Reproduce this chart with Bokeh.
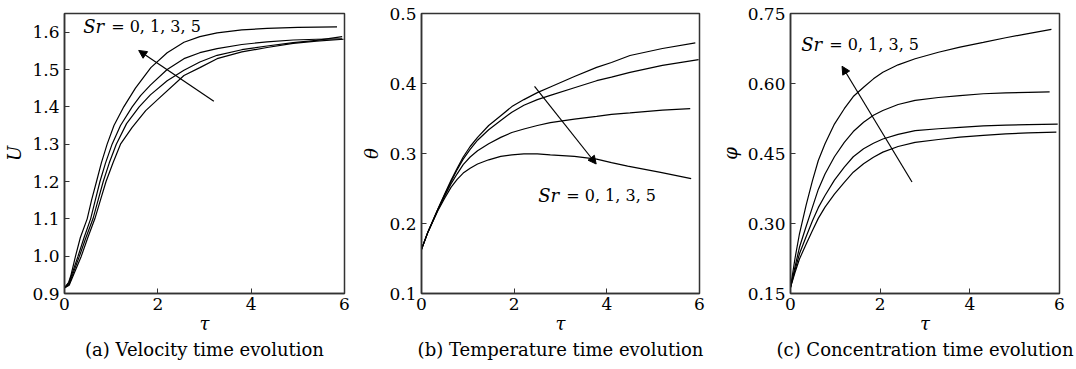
from bokeh.plotting import figure
from bokeh.layouts import row
from bokeh.models import Arrow, NormalHead, FixedTicker, Range1d, Title, PrintfTickFormatter
from bokeh.core.properties import value
from bokeh.embed import file_html
from bokeh.resources import INLINE

# ---------------- data ----------------
# (a) velocity U(tau)
a_tau_sr5 = [0, 0.09, 0.14, 0.236, 0.34, 0.486, 0.58, 0.686, 0.79, 0.914, 1.06, 1.27, 1.52, 1.85,
             2.2, 2.56, 2.9, 3.27, 3.8, 4.34, 5.0, 5.84]
a_U_sr5 = [0.915, 0.93, 0.95, 1.0, 1.05, 1.1, 1.15, 1.2, 1.25, 1.3, 1.35, 1.4, 1.45, 1.505,
           1.545, 1.573, 1.588, 1.598, 1.606, 1.61, 1.613, 1.614]
a_tau_sr3 = [0, 0.1, 0.29, 0.42, 0.56, 0.66, 0.76, 0.88, 1.02, 1.2, 1.45, 1.63, 1.84, 2.2,
             2.56, 2.9, 3.27, 3.8, 4.34, 4.9, 5.4, 5.95]
a_U_sr3 = [0.915, 0.93, 1.0, 1.05, 1.1, 1.15, 1.2, 1.25, 1.3, 1.35, 1.4, 1.43, 1.458, 1.5,
           1.529, 1.545, 1.556, 1.567, 1.574, 1.579, 1.581, 1.582]
a_tau_sr1 = [0, 0.1, 0.32, 0.46, 0.61, 0.72, 0.83, 0.96, 1.11, 1.33, 1.6, 1.84, 2.2, 2.56,
             2.9, 3.27, 3.8, 4.34, 4.9, 5.4, 5.95]
a_U_sr1 = [0.915, 0.925, 1.0, 1.05, 1.1, 1.15, 1.2, 1.25, 1.3, 1.355, 1.4, 1.432, 1.47, 1.498,
           1.52, 1.538, 1.553, 1.563, 1.572, 1.578, 1.588]
a_tau_sr0 = [0, 0.1, 0.36, 0.5, 0.65, 0.77, 0.89, 1.04, 1.2, 1.45, 1.74, 2.0, 2.56, 2.9,
             3.27, 3.8, 4.34, 4.9, 5.4, 5.98]
a_U_sr0 = [0.915, 0.922, 1.0, 1.05, 1.1, 1.15, 1.2, 1.25, 1.3, 1.345, 1.39, 1.42, 1.484, 1.505,
           1.529, 1.547, 1.559, 1.57, 1.576, 1.581]

# (b) temperature theta(tau)
b_tau_sr0 = [0, 0.14, 0.35, 0.5, 0.64, 0.77, 0.9, 1.05, 1.21, 1.45, 1.71, 1.95, 2.21, 2.5,
             2.78, 3.3, 3.78, 4.1, 4.5, 5.2, 5.91]
b_T_sr0 = [0.163, 0.188, 0.22, 0.242, 0.262, 0.279, 0.295, 0.31, 0.323, 0.34, 0.354, 0.367,
           0.377, 0.387, 0.395, 0.41, 0.423, 0.43, 0.44, 0.45, 0.458]
b_tau_sr1 = [0, 0.14, 0.35, 0.5, 0.64, 0.77, 0.9, 1.05, 1.21, 1.45, 1.71, 1.95, 2.21, 2.5,
             2.78, 3.3, 3.78, 4.1, 4.5, 5.2, 5.98]
b_T_sr1 = [0.163, 0.188, 0.22, 0.241, 0.26, 0.277, 0.292, 0.306, 0.319, 0.334, 0.347, 0.359,
           0.369, 0.377, 0.383, 0.394, 0.404, 0.409, 0.416, 0.426, 0.434]
b_tau_sr3 = [0, 0.14, 0.35, 0.5, 0.64, 0.77, 0.9, 1.05, 1.21, 1.45, 1.71, 1.95, 2.21, 2.5,
             2.78, 3.3, 3.78, 4.1, 4.5, 5.2, 5.8]
b_T_sr3 = [0.163, 0.188, 0.219, 0.239, 0.257, 0.271, 0.284, 0.295, 0.304, 0.314, 0.323, 0.33,
           0.335, 0.34, 0.344, 0.349, 0.353, 0.356, 0.358, 0.362, 0.364]
b_tau_sr5 = [0, 0.14, 0.35, 0.5, 0.64, 0.77, 0.9, 1.05, 1.21, 1.45, 1.71, 1.95, 2.21, 2.5,
             2.78, 3.3, 3.78, 4.1, 4.45, 5.16, 5.82]
b_T_sr5 = [0.163, 0.188, 0.218, 0.236, 0.252, 0.263, 0.272, 0.279, 0.285, 0.291, 0.296, 0.298,
           0.2995, 0.2995, 0.298, 0.296, 0.292, 0.287, 0.282, 0.273, 0.264]

# (c) concentration phi(tau)
c_tau_sr5 = [0, 0.1, 0.2, 0.35, 0.49, 0.62, 0.77, 0.98, 1.2, 1.4, 1.63, 1.85, 2.06, 2.4,
             2.78, 3.3, 3.78, 4.3, 4.8, 5.3, 5.82]
c_C_sr5 = [0.163, 0.225, 0.278, 0.34, 0.392, 0.435, 0.471, 0.513, 0.546, 0.572, 0.592, 0.61,
           0.624, 0.64, 0.653, 0.667, 0.678, 0.688, 0.698, 0.707, 0.716]
c_tau_sr3 = [0, 0.1, 0.2, 0.35, 0.49, 0.62, 0.77, 0.98, 1.2, 1.4, 1.63, 1.85, 2.06, 2.4,
             2.78, 3.3, 3.78, 4.3, 4.8, 5.3, 5.78]
c_C_sr3 = [0.163, 0.207, 0.249, 0.294, 0.335, 0.373, 0.406, 0.443, 0.474, 0.497, 0.517, 0.532,
           0.542, 0.555, 0.564, 0.57, 0.574, 0.578, 0.58, 0.581, 0.582]
c_tau_sr1 = [0, 0.1, 0.2, 0.35, 0.49, 0.62, 0.77, 0.98, 1.2, 1.4, 1.63, 1.85, 2.06, 2.4,
             2.78, 3.3, 3.78, 4.3, 4.8, 5.3, 5.96]
c_C_sr1 = [0.163, 0.2, 0.235, 0.272, 0.306, 0.334, 0.36, 0.393, 0.421, 0.443, 0.46, 0.472,
           0.481, 0.491, 0.499, 0.503, 0.506, 0.509, 0.511, 0.512, 0.513]
c_tau_sr0 = [0, 0.1, 0.2, 0.35, 0.49, 0.62, 0.77, 0.98, 1.2, 1.4, 1.63, 1.85, 2.06, 2.4,
             2.78, 3.3, 3.78, 4.3, 4.8, 5.3, 5.93]
c_C_sr0 = [0.163, 0.195, 0.224, 0.256, 0.285, 0.311, 0.335, 0.363, 0.388, 0.41, 0.428, 0.442,
           0.453, 0.465, 0.474, 0.48, 0.485, 0.489, 0.492, 0.494, 0.496]

x_ticks = [0, 2, 4, 6]
a_yticks = [0.9, 1.0, 1.1, 1.2, 1.3, 1.4, 1.5, 1.6]
b_yticks = [0.1, 0.2, 0.3, 0.4, 0.5]
c_yticks = [0.15, 0.30, 0.45, 0.60, 0.75]

label_sr = "Sr"
label_rest = "= 0, 1, 3, 5"

SERIF = "DejaVu Serif"
H = 369


def make_panel(width, left, right, yr, yticks, yfmt, ylabel, caption,
               series, arrow, text_pos):
    p = figure(width=width, height=H, output_backend="svg", toolbar_location=None,
               x_range=Range1d(0, 6), y_range=Range1d(*yr),
               min_border_left=left, min_border_right=right,
               min_border_top=13, min_border_bottom=76)
    p.background_fill_color = "white"
    p.border_fill_color = "white"
    p.outline_line_color = "#333333"
    p.outline_line_width = 1.5
    p.xgrid.visible = False
    p.ygrid.visible = False
    for ax in (p.xaxis[0], p.yaxis[0]):
        ax.axis_line_color = "#333333"
        ax.axis_line_width = 1.5
        ax.major_tick_in = 5
        ax.major_tick_out = 0
        ax.minor_tick_in = 0
        ax.minor_tick_out = 0
        ax.major_tick_line_color = "#333333"
        ax.major_label_text_font = SERIF
        ax.major_label_text_font_size = "17px"
        ax.major_label_text_color = "black"
        ax.axis_label_text_font = SERIF
        ax.axis_label_text_font_style = "italic"
        ax.axis_label_text_font_size = "18px"
        ax.axis_label_text_color = "black"
    p.xaxis.ticker = FixedTicker(ticks=x_ticks)
    p.yaxis.ticker = FixedTicker(ticks=yticks)
    p.yaxis.formatter = PrintfTickFormatter(format=yfmt)
    p.xaxis.major_label_standoff = 4
    p.yaxis.major_label_standoff = 5
    p.xaxis.axis_label = "τ"
    p.xaxis.axis_label_standoff = 0
    p.yaxis.axis_label = ylabel
    p.yaxis.axis_label_standoff = 4
    for xs, ys in series:
        p.line(xs, ys, line_color="black", line_width=1.2)
    (x0, y0, x1, y1) = arrow
    p.add_layout(Arrow(end=NormalHead(size=8, fill_color="black", line_color="black"),
                       x_start=x0, y_start=y0, x_end=x1, y_end=y1,
                       line_color="black", line_width=1.2))
    tx, ty = text_pos
    p.text([tx], [ty], text=[label_sr], text_font=value(SERIF), text_font_style="italic",
           text_font_size="18px", text_baseline="middle", text_align="left", text_color="black")
    p.text([tx], [ty], text=[label_rest], text_font=value(SERIF), x_offset=28,
           text_font_size="16px", text_baseline="middle", text_align="left", text_color="black")
    t = Title(text=caption, align="center", text_font=SERIF, text_font_style="normal",
              text_font_size="18px", text_color="black", standoff=0, offset=0)
    p.add_layout(t, "below")
    return p


pa = make_panel(358, 64, 14, (0.9, 1.65), a_yticks, "%.1f", "U",
                "(a) Velocity time evolution",
                [(a_tau_sr5, a_U_sr5), (a_tau_sr3, a_U_sr3),
                 (a_tau_sr1, a_U_sr1), (a_tau_sr0, a_U_sr0)],
                (3.2, 1.415, 1.59, 1.551), (0.4, 1.615))

pb = make_panel(358, 61, 17, (0.1, 0.5), b_yticks, "%.1f", "θ",
                "(b) Temperature time evolution",
                [(b_tau_sr0, b_T_sr0), (b_tau_sr1, b_T_sr1),
                 (b_tau_sr3, b_T_sr3), (b_tau_sr5, b_T_sr5)],
                (2.44, 0.396, 3.77, 0.285), (2.52, 0.24))

pc = make_panel(360, 64, 17, (0.15, 0.75), c_yticks, "%.2f", "φ",
                "(c) Concentration time evolution",
                [(c_tau_sr5, c_C_sr5), (c_tau_sr3, c_C_sr3),
                 (c_tau_sr1, c_C_sr1), (c_tau_sr0, c_C_sr0)],
                (2.71, 0.389, 1.15, 0.637), (0.24, 0.683))

layout = row(pa, pb, pc, spacing=0)
open("out.html", "w").write(file_html(layout, INLINE))
